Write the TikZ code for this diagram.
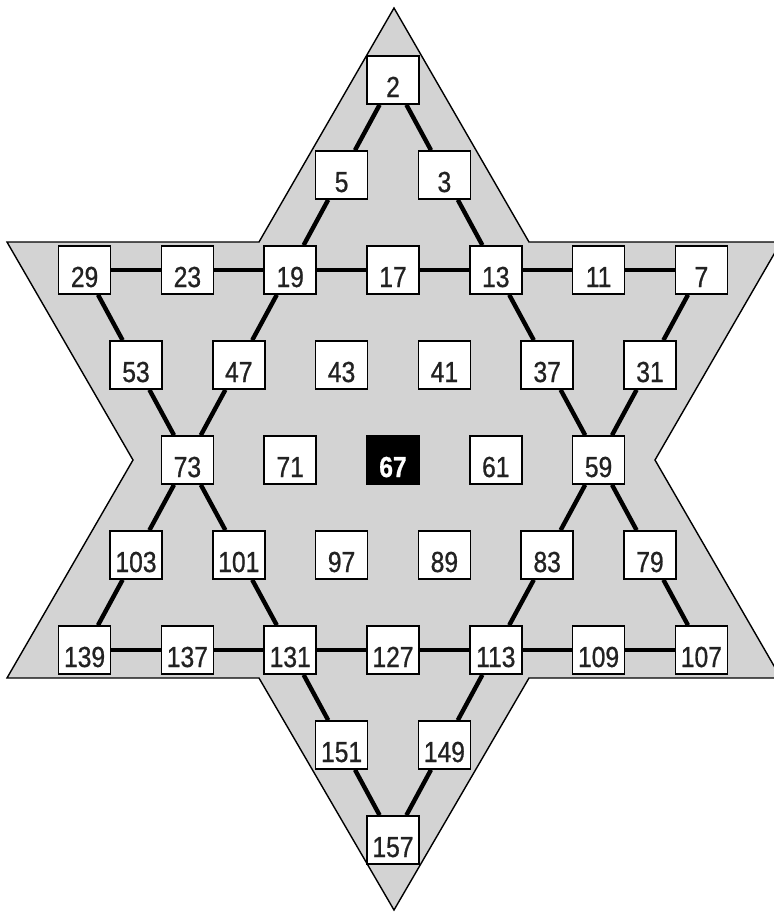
\documentclass[tikz,border=0pt]{standalone}
\usepackage{fontspec}
\setmainfont{Liberation Sans}
\newfontfamily\cellfont[FakeStretch=0.85, FakeBold=0.8]{Liberation Sans}
\usepackage{tikz}
\definecolor{stargray}{HTML}{D3D3D3}
\definecolor{digitgray}{HTML}{222222}
\tikzset{
  starfill/.style={fill=stargray, draw=black, line width=0.7pt, line join=miter},
  link/.style={line width=2.2pt, draw=black},
  cell/.style={draw=black, line width=0.8pt, fill=white, minimum width=26pt, minimum height=24pt,
    inner sep=0pt, text height=17pt, text depth=0pt, text=digitgray,
    font=\cellfont\fontsize{14.5}{14.5}\selectfont},
  centercell/.style={cell, fill=black, text=white, font=\cellfont\bfseries\fontsize{14.5}{14.5}\selectfont},
}

\begin{document}
\begin{tikzpicture}[x=0.5pt, y=-0.5pt]  % 1 unit = 1 px of the 774 x 912 sheet
  \useasboundingbox (0,0) rectangle (774,912);
  \clip (0,0) rectangle (774,912);
  % hexagram outline: two triangles, apex 394, half slope 0.577
  \draw[starfill] (394,8) -- (259,242) -- (7,242) -- (133,460) -- (7,678) -- (259,678)
    -- (394,910) -- (529,678) -- (781,678) -- (655,460) -- (781,242) -- (529,242) -- cycle;
  % number cells on the triangular grid, column step 51.4, row step 95
  \foreach \j/\k/\v in {0/0/2, -1/1/5, 1/1/3,
      -6/2/29, -4/2/23, -2/2/19, 0/2/17, 2/2/13, 4/2/11, 6/2/7,
      -5/3/53, -3/3/47, -1/3/43, 1/3/41, 3/3/37, 5/3/31,
      -4/4/73, -2/4/71, 2/4/61, 4/4/59,
      -5/5/103, -3/5/101, -1/5/97, 1/5/89, 3/5/83, 5/5/79,
      -6/6/139, -4/6/137, -2/6/131, 0/6/127, 2/6/113, 4/6/109, 6/6/107,
      -1/7/151, 1/7/149, 0/8/157}
    \node[cell] (n\v) at ({393+51.4*\j},{80+95*\k}) {\v};
  \node[centercell] (n67) at (393,460) {67};
  % triangle edges
  \foreach \a/\b in {2/5, 5/19, 19/47, 47/73, 73/103, 103/139,
      139/137, 137/131, 131/127, 127/113, 113/109, 109/107,
      2/3, 3/13, 13/37, 37/59, 59/79, 79/107,
      29/23, 23/19, 19/17, 17/13, 13/11, 11/7,
      29/53, 53/73, 73/101, 101/131, 131/151, 151/157,
      7/31, 31/59, 59/83, 83/113, 113/149, 149/157}
    \draw[link] (n\a) -- (n\b);
\end{tikzpicture}
\end{document}
